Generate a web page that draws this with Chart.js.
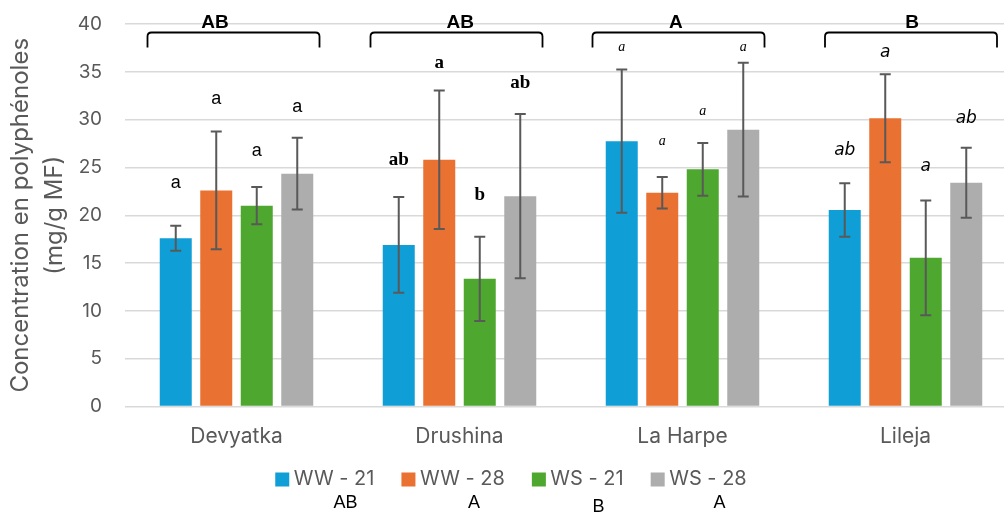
<!DOCTYPE html>
<html>
<head>
<meta charset="utf-8">
<script src="https://cdn.jsdelivr.net/npm/chart.js@4.4.1/dist/chart.umd.min.js"></script>
<style>
  html, body { margin: 0; padding: 0; overflow: hidden; background: #ffffff; }
  #wrap { width: 1020px; height: 515px; }
</style>
</head>
<body>
<div id="wrap"><canvas id="c" width="1020" height="515"></canvas></div>
<script>
// Cultivars and treatments
const cultivars = ['Devyatka', 'Drushina', 'La Harpe', 'Lileja'];
const seriesNames = ['WW - 21', 'WW - 28', 'WS - 21', 'WS - 28'];

// Mean polyphenol concentration (mg/g MF)
const ww21 = [17.6, 16.9, 27.75, 20.55];
const ww28 = [22.6, 25.8, 22.35, 30.15];
const ws21 = [21.0, 13.35, 24.8, 15.55];
const ws28 = [24.35, 22.0, 28.95, 23.4];

// Standard deviations
const ww21Err = [1.3, 5.0, 7.5, 2.8];
const ww28Err = [6.15, 7.25, 1.65, 4.6];
const ws21Err = [1.95, 4.4, 2.75, 6.0];
const ws28Err = [3.75, 8.6, 7.0, 3.65];

// Y axis
const yMin = 0, yMax = 40, yStep = 5;

// Significance letters within each cultivar
const ww21Letters = ['a', 'ab', 'a', 'ab'];
const ww28Letters = ['a', 'a', 'a', 'a'];
const ws21Letters = ['a', 'b', 'a', 'a'];
const ws28Letters = ['a', 'ab', 'a', 'ab'];
// Letters between cultivars and between treatments
const cultivarLetters = ['AB', 'AB', 'A', 'B'];
const treatmentLetters = ['AB', 'A', 'B', 'A'];

const seriesValues = [ww21, ww28, ws21, ws28];
const seriesErrors = [ww21Err, ww28Err, ws21Err, ws28Err];
const seriesLetters = [ww21Letters, ww28Letters, ws21Letters, ws28Letters];
const colors = ['#0F9ED5', '#E97132', '#4EA72E', '#ADADAD'];

// Heights (axis units) at which each letter sits above its bar
const letterLevels = [
  [23.4, 25.8, 37.6, 26.8],
  [32.15, 35.95, 27.75, 37.05],
  [26.7, 22.1, 30.9, 25.05],
  [31.35, 33.8, 37.6, 30.15]
];
// Letter typeface used for each cultivar group
const letterFonts = [
  '18px "Liberation Sans"',
  'bold 19px "Liberation Serif"',
  'italic 14px "Liberation Serif"',
  'italic 17px "DejaVu Sans"'
];
// Bracket and bracket-letter offsets from each group centre (px)
const bracketShift = [-3, -3, -4, 5.5];
const bracketHalf = 86;
const bracketLetterShift = [-21.5, 0.7, -6.7, 6.5];

const GREY = '#595959';
const FONT = 'Inter';

const errorBars = {
  id: 'errorBars',
  afterDatasetsDraw(chart) {
    const ctx = chart.ctx, y = chart.scales.y;
    ctx.save();
    ctx.strokeStyle = GREY;
    ctx.lineWidth = 2;
    chart.data.datasets.forEach((ds, i) => {
      const meta = chart.getDatasetMeta(i);
      meta.data.forEach((bar, j) => {
        const v = ds.data[j], e = seriesErrors[i][j];
        const top = y.getPixelForValue(v + e), bot = y.getPixelForValue(v - e);
        ctx.beginPath();
        ctx.moveTo(bar.x, top); ctx.lineTo(bar.x, bot);
        ctx.moveTo(bar.x - 5.5, top); ctx.lineTo(bar.x + 5.5, top);
        ctx.moveTo(bar.x - 5.5, bot); ctx.lineTo(bar.x + 5.5, bot);
        ctx.stroke();
      });
    });
    ctx.restore();
  }
};

const annotations = {
  id: 'annotations',
  afterDraw(chart) {
    const ctx = chart.ctx, x = chart.scales.x, y = chart.scales.y;
    ctx.save();
    ctx.textAlign = 'center';
    ctx.textBaseline = 'middle';
    ctx.fillStyle = '#000';

    // letters above bars
    chart.data.datasets.forEach((ds, i) => {
      const meta = chart.getDatasetMeta(i);
      meta.data.forEach((bar, j) => {
        ctx.font = letterFonts[j];
        ctx.fillText(seriesLetters[i][j], bar.x, y.getPixelForValue(letterLevels[i][j]));
      });
    });

    // brackets across each cultivar with their letters
    ctx.strokeStyle = '#000';
    ctx.lineWidth = 1.8;
    cultivars.forEach((c, j) => {
      const cx = x.getPixelForValue(j);
      const l = cx + bracketShift[j] - bracketHalf, r = cx + bracketShift[j] + bracketHalf;
      const t = 32.5, b = 47.5, rad = 4;
      ctx.beginPath();
      ctx.moveTo(l, b);
      ctx.lineTo(l, t + rad);
      ctx.quadraticCurveTo(l, t, l + rad, t);
      ctx.lineTo(r - rad, t);
      ctx.quadraticCurveTo(r, t, r, t + rad);
      ctx.lineTo(r, b);
      ctx.stroke();
      ctx.font = 'bold 19px "Liberation Sans"';
      ctx.fillText(cultivarLetters[j], cx + bracketLetterShift[j], 22.5);
    });

    // legend
    ctx.font = '20px ' + FONT;
    const box = 14, gap = 4.5, space = 27;
    const widths = seriesNames.map(s => ctx.measureText(s).width);
    const total = widths.reduce((a, w) => a + box + gap + w, 0) + space * (seriesNames.length - 1);
    let lx = 511 - total / 2;
    const ly = 479;
    seriesNames.forEach((s, i) => {
      ctx.fillStyle = colors[i];
      ctx.fillRect(lx, ly - box / 2 + 0.5, box, box);
      ctx.fillStyle = GREY;
      ctx.textAlign = 'left';
      ctx.font = '20px ' + FONT;
      ctx.fillText(s, lx + box + gap, ly);
      // treatment letter below its legend entry
      ctx.textAlign = 'center';
      ctx.fillStyle = '#000';
      ctx.font = '18px "Liberation Sans"';
      const tx = lx + box + gap + widths[i] / 2 + 11.5;
      ctx.fillText(treatmentLetters[i], tx, treatmentLetters[i] === 'B' ? 507 : 503.5);
      lx += box + gap + widths[i] + space;
    });
    ctx.restore();
  }
};

new Chart(document.getElementById('c'), {
  type: 'bar',
  data: {
    labels: cultivars,
    datasets: seriesNames.map((n, i) => ({
      label: n,
      data: seriesValues[i],
      backgroundColor: colors[i],
      borderWidth: 0,
      categoryPercentage: 0.7265,
      barPercentage: 0.79
    }))
  },
  options: {
    responsive: false,
    animation: false,
    devicePixelRatio: 1,
    layout: { padding: { top: 24, right: 3, left: 0, bottom: 0 } },
    plugins: { legend: { display: false }, tooltip: { enabled: false } },
    scales: {
      x: {
        grid: { display: false, drawTicks: false },
        border: { display: false },
        ticks: { color: GREY, font: { family: FONT, size: 21 }, padding: 18 },
        afterFit(s) { s.height = 108.5; }
      },
      y: {
        min: yMin, max: yMax,
        grid: { color: '#D9D9D9', lineWidth: 1.5, drawTicks: false },
        border: { display: false },
        ticks: { stepSize: yStep, color: GREY, font: { family: FONT, size: 19 }, padding: 23 },
        title: {
          display: true,
          text: ['Concentration en polyphénoles', '(mg/g MF)'],
          color: GREY,
          font: { family: FONT, size: 24, lineHeight: 1.42 },
          padding: { top: 4, bottom: 0 }
        },
        afterFit(s) {
          s.width = 125;
          s.paddingTop = 0;
          s.paddingBottom = 0;
        }
      }
    }
  },
  plugins: [errorBars, annotations]
});
</script>
</body>
</html>
